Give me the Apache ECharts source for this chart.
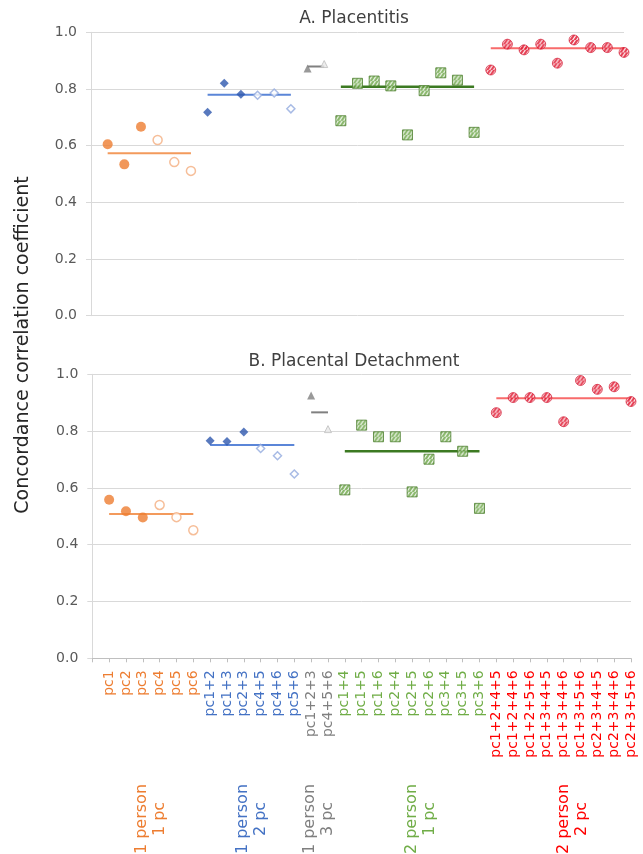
<!DOCTYPE html>
<html>
<head>
<meta charset="utf-8">
<script src="https://cdn.jsdelivr.net/npm/echarts@6/dist/echarts.min.js"></script>
<style>
html,body{margin:0;padding:0;background:#fff;}
#chart{width:643px;height:854px;}
</style>
</head>
<body>
<div id="chart"></div>
<script>
// ---- categories ----
const cat1pc = ['pc1','pc2','pc3','pc4','pc5','pc6'];
const catPair = ['pc1+2','pc1+3','pc2+3','pc4+5','pc4+6','pc5+6'];
const catTriple = ['pc1+2+3','pc4+5+6'];
const cat2p1 = ['pc1+4','pc1+5','pc1+6','pc2+4','pc2+5','pc2+6','pc3+4','pc3+5','pc3+6'];
const cat2p2 = ['pc1+2+4+5','pc1+2+4+6','pc1+2+5+6','pc1+3+4+5','pc1+3+4+6','pc1+3+5+6','pc2+3+4+5','pc2+3+4+6','pc2+3+5+6'];

// ---- A. Placentitis ----
const plac1pc = [0.605, 0.534, 0.667, 0.620, 0.542, 0.511];
const placPair = [0.718, 0.820, 0.781, 0.778, 0.786, 0.730];
const placTriple = [0.872, 0.888];
const plac2p1 = [0.688, 0.820, 0.828, 0.811, 0.638, 0.794, 0.857, 0.831, 0.647];
const plac2p2 = [0.867, 0.958, 0.938, 0.958, 0.891, 0.973, 0.946, 0.946, 0.929];
const placMeans = [0.573, 0.780, 0.879, 0.808, 0.944];

// ---- B. Placental Detachment ----
const det1pc = [0.558, 0.518, 0.496, 0.540, 0.497, 0.451];
const detPair = [0.766, 0.763, 0.797, 0.739, 0.713, 0.649];
const detTriple = [0.925, 0.807];
const det2p1 = [0.593, 0.821, 0.780, 0.780, 0.586, 0.701, 0.780, 0.729, 0.528];
const det2p2 = [0.865, 0.918, 0.918, 0.918, 0.833, 0.978, 0.947, 0.956, 0.904];
const detMeans = [0.508, 0.751, 0.866, 0.729, 0.916];

const yTicks = ['0.0','0.2','0.4','0.6','0.8','1.0'];

const allCats = [''].concat(cat1pc, catPair, catTriple, cat2p1, cat2p2);
const labelColor = {};
cat1pc.forEach(c => labelColor[c] = '#ED7D31');
catPair.forEach(c => labelColor[c] = '#4472C4');
catTriple.forEach(c => labelColor[c] = '#7F7F7F');
cat2p1.forEach(c => labelColor[c] = '#70AD47');
cat2p2.forEach(c => labelColor[c] = '#FF0000');

// diagonal "/" hatch, drawn 1:1 in screen pixels (pattern scaled back by symbol size)
function hatch(bg, period) {
  const s = period * 4;
  const cv = document.createElement('canvas');
  cv.width = s; cv.height = s;
  const g = cv.getContext('2d');
  g.fillStyle = bg; g.fillRect(0, 0, s, s);
  g.strokeStyle = '#ffffff'; g.lineWidth = 1.1;
  g.beginPath();
  for (let k = -s; k <= 2 * s; k += period) {
    g.moveTo(k - s, s + s); g.lineTo(k + s, -s);
  }
  g.stroke();
  return cv;
}
const greenHatch = hatch('#6AA544', 4);
const redHatch = hatch('#E0102A', 4);
function pattern(img, size) {
  const sc = 2 / size;
  return { image: img, repeat: 'repeat', scaleX: sc, scaleY: sc };
}

function pts(cats, vals, from, to) {
  return cats.slice(from, to).map((c, i) => [c, vals[from + i]]);
}
function meanPts(cats, m) { return cats.map(c => [c, m]); }

function panelSeries(p, v1, v2, v3, v4, v5, means) {
  const base = { xAxisIndex: p, yAxisIndex: p, clip: false, silent: true };
  const line = (cats, m, color, w) => Object.assign({}, base, {
    type: 'line', data: meanPts(cats, m), symbol: 'none', z: 2,
    lineStyle: { color: color, width: w }
  });
  const sc = (data, symbol, size, itemStyle) => Object.assign({}, base, {
    type: 'scatter', data: data, symbol: symbol, symbolSize: size, z: 5, itemStyle: itemStyle
  });
  return [
    line(cat1pc, means[0], '#F39A5C', 2),
    line(catPair, means[1], '#5B86D8', 2),
    line(catTriple, means[2], '#808080', 2),
    line(cat2p1, means[3], '#3C7A22', 2.5),
    line(cat2p2, means[4], '#F86B6B', 2),
    sc(pts(cat1pc, v1, 0, 3), 'circle', 10, { color: '#ED7D31' }),
    sc(pts(cat1pc, v1, 3, 6), 'circle', 9, { color: '#ffffff', borderColor: '#F4AE80', borderWidth: 1.5 }),
    sc(pts(catPair, v2, 0, 3), 'diamond', 9, { color: '#2E58AE' }),
    sc(pts(catPair, v2, 3, 6), 'diamond', 8, { color: '#ffffff', borderColor: '#92AADF', borderWidth: 1.5 }),
    sc(pts(catTriple, v3, 0, 1), 'triangle', 8, { color: '#7F7F7F' }),
    sc(pts(catTriple, v3, 1, 2), 'triangle', 7, { color: '#E8E8E8', borderColor: '#BDBDBD', borderWidth: 1 }),
    sc(pts(cat2p1, v4, 0, 9), 'rect', 10, { color: pattern(greenHatch, 10), borderColor: '#4E7F30', borderWidth: 1 }),
    sc(pts(cat2p2, v5, 0, 9), 'circle', 10, { color: pattern(redHatch, 10), borderColor: '#D0102A', borderWidth: 0.8 })
  ];
}

const font = 'DejaVu Sans';
function yAxis(gi) {
  return {
    type: 'value', gridIndex: gi, min: 0, max: 1, interval: 0.2,
    axisLine: { show: true, lineStyle: { color: '#D9D9D9', width: 1 } },
    axisTick: { show: true, length: 5, lineStyle: { color: '#D9D9D9' } },
    splitLine: { show: true, lineStyle: { color: '#D9D9D9', width: 1 } },
    axisLabel: {
      margin: 14, fontFamily: font, fontSize: 14, color: '#595959',
      formatter: v => yTicks[Math.round(v / 0.2)]
    }
  };
}

const chart = echarts.init(document.getElementById('chart'), null, { renderer: 'canvas' });
chart.setOption({
  backgroundColor: '#ffffff',
  animation: false,
  grid: [
    { left: 91, top: 32.3, width: 533, height: 283.4 },
    { left: 92.3, top: 374.3, width: 538.7, height: 284 }
  ],
  xAxis: [
    { type: 'category', gridIndex: 0, data: allCats, boundaryGap: false,
      axisLine: { show: false }, axisTick: { show: false }, axisLabel: { show: false }, splitLine: { show: false } },
    { type: 'category', gridIndex: 1, data: allCats, boundaryGap: false,
      axisLine: { show: true, lineStyle: { color: '#BFBFBF', width: 1 } },
      axisTick: { show: true, length: 4, interval: 0, lineStyle: { color: '#BFBFBF' } },
      splitLine: { show: false },
      axisLabel: { interval: 0, rotate: 90, margin: 12, fontFamily: font, fontSize: 14,
        color: (v) => labelColor[v] || '#595959' } }
  ],
  yAxis: [yAxis(0), yAxis(1)],
  series: [].concat(
    panelSeries(0, plac1pc, placPair, placTriple, plac2p1, plac2p2, placMeans),
    panelSeries(1, det1pc, detPair, detTriple, det2p1, det2p2, detMeans)
  ),
  graphic: [
    { type: 'text', x: 354, y: 19, style: { text: 'A. Placentitis', font: '17px "DejaVu Sans"', fill: '#404040', textAlign: 'center', textVerticalAlign: 'middle' } },
    { type: 'text', x: 354, y: 362, style: { text: 'B. Placental Detachment', font: '17px "DejaVu Sans"', fill: '#404040', textAlign: 'center', textVerticalAlign: 'middle' } },
    { type: 'text', x: 23, y: 345, rotation: Math.PI / 2, style: { text: 'Concordance correlation coefficient', font: '19px "DejaVu Sans"', fill: '#262626', textAlign: 'center', textVerticalAlign: 'middle' } },
    { type: 'text', x: 151, y: 819, rotation: Math.PI / 2, style: { text: '1 person\n1 pc', font: '16px "DejaVu Sans"', lineHeight: 18, fill: '#ED7D31', textAlign: 'center', textVerticalAlign: 'middle' } },
    { type: 'text', x: 251.5, y: 819, rotation: Math.PI / 2, style: { text: '1 person\n2 pc', font: '16px "DejaVu Sans"', lineHeight: 18, fill: '#4472C4', textAlign: 'center', textVerticalAlign: 'middle' } },
    { type: 'text', x: 319, y: 819, rotation: Math.PI / 2, style: { text: '1 person\n3 pc', font: '16px "DejaVu Sans"', lineHeight: 18, fill: '#7F7F7F', textAlign: 'center', textVerticalAlign: 'middle' } },
    { type: 'text', x: 421, y: 819, rotation: Math.PI / 2, style: { text: '2 person\n1 pc', font: '16px "DejaVu Sans"', lineHeight: 18, fill: '#70AD47', textAlign: 'center', textVerticalAlign: 'middle' } },
    { type: 'text', x: 573, y: 819, rotation: Math.PI / 2, style: { text: '2 person\n2 pc', font: '16px "DejaVu Sans"', lineHeight: 18, fill: '#FF0000', textAlign: 'center', textVerticalAlign: 'middle' } }
  ]
});
</script>
</body>
</html>
